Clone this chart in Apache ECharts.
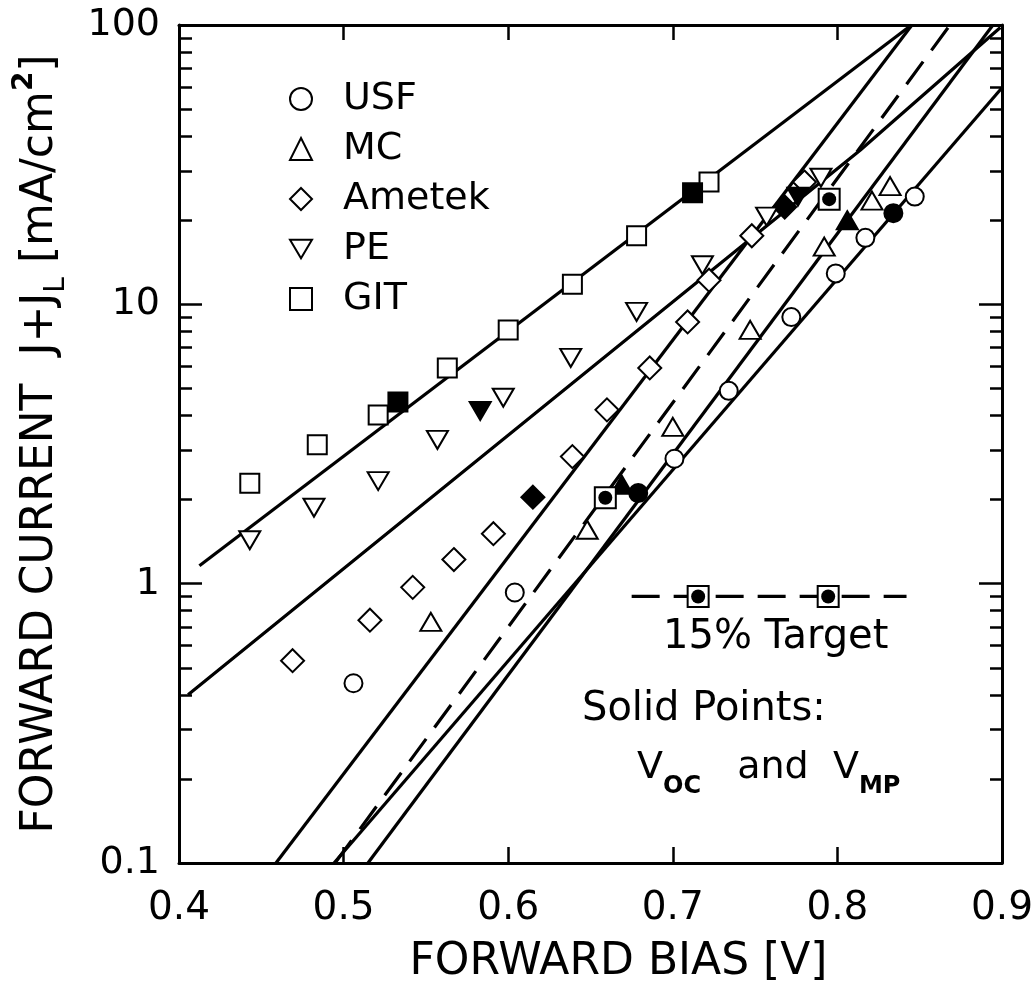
<!DOCTYPE html>
<html>
<head>
<meta charset="utf-8">
<script src="https://cdn.jsdelivr.net/npm/echarts@6/dist/echarts.min.js"></script>
<style>
  html, body { margin: 0; padding: 0; background: #fff; }
  #chart { width: 1036px; height: 991px; }
</style>
</head>
<body>
<div id="chart"></div>
<script>
// Forward J-V characteristics (J + J_L vs. forward bias) for five cell makers,
// with the fitted diode lines and the 15 % efficiency target line.

const xTicks = [0.4, 0.5, 0.6, 0.7, 0.8, 0.9];
const yMajor = [0.1, 1, 10, 100];
const yMinor = [0.2, 0.3, 0.4, 0.5, 0.6, 0.7, 0.8, 0.9,
                2, 3, 4, 5, 6, 7, 8, 9,
                20, 30, 40, 50, 60, 70, 80, 90];
const yTickText = { 0.1: '0.1', 1: '1', 10: '10', 100: '100' };

// measured points [bias V, current mA/cm2]; "solid" = Vmp and Voc
const usfOpen = [[0.506, 0.44], [0.604, 0.93], [0.701, 2.8], [0.734, 4.9], [0.772, 9.0],
                 [0.799, 12.9], [0.817, 17.3], [0.847, 24.3]];
const usfSolid = [[0.679, 2.11], [0.834, 21.2]];
const mcOpen = [[0.553, 0.73], [0.648, 1.56], [0.700, 3.64], [0.747, 8.1], [0.792, 16.1],
                [0.821, 23.5], [0.832, 26.5]];
const mcSolid = [[0.669, 2.26], [0.806, 20.0]];
const ametekOpen = [[0.469, 0.53], [0.516, 0.74], [0.542, 0.97], [0.567, 1.22], [0.591, 1.51],
                    [0.639, 2.85], [0.660, 4.19], [0.686, 5.92], [0.709, 8.65], [0.722, 12.2],
                    [0.748, 17.6], [0.780, 27.4]];
const ametekSolid = [[0.615, 2.04], [0.768, 22.3]];
const peOpen = [[0.443, 1.43], [0.482, 1.87], [0.521, 2.33], [0.557, 3.27], [0.597, 4.63],
                [0.638, 6.43], [0.678, 9.4], [0.718, 13.8], [0.757, 20.6], [0.790, 28.4]];
const peSolid = [[0.583, 4.15], [0.776, 24.3]];
const gitOpen = [[0.443, 2.29], [0.484, 3.14], [0.521, 4.02], [0.563, 5.92], [0.600, 8.09],
                 [0.639, 11.8], [0.678, 17.6], [0.722, 27.4]];
const gitSolid = [[0.533, 4.47], [0.712, 25.1]];
const targetPoints = [[0.659, 2.03], [0.795, 23.8]];

// fitted lines
const gitFit = [[0.4124, 1.16], [0.845, 100]];
const peFit = [[0.4055, 0.40], [0.656, 6.3], [0.814, 35.7], [0.899, 98]];
const ametekFit = [[0.4589, 0.1], [0.8453, 100]];
const mcFit = [[0.5148, 0.1], [0.8945, 100]];
const usfFit = [[0.4942, 0.1], [0.9, 59.6]];
const targetFit = [[0.4948, 0.1], [0.8684, 100]];

// key for the target line
const targetKeyLine = [[0.675, 0.9], [0.842, 0.9]];
const targetKeyPoints = [[0.7154, 0.9], [0.7944, 0.9]];

const FONT = '"DejaVu Sans", sans-serif';
const BLACK = '#000';
const downTri = 'path://M0,0L20,0L10,17Z';

function fit(name, data, dashed) {
  return {
    type: 'line', name: name, data: data, symbol: 'none', showSymbol: false,
    lineStyle: { color: BLACK, width: 3.2, type: dashed ? [28, 14] : 'solid' },
    z: 2, silent: true
  };
}

function marks(name, symbol, size, open, solid) {
  return {
    type: 'scatter', name: name, symbol: symbol, symbolSize: size,
    itemStyle: { color: '#fff', borderColor: BLACK, borderWidth: 2, opacity: 1 },
    data: open.concat(solid.map(p => ({ value: p, itemStyle: { color: BLACK, opacity: 1 } }))),
    z: 4, silent: true
  };
}

function boxedDots(data) {
  return [
    { type: 'scatter', name: 'box', symbol: 'rect', symbolSize: 21, data: data,
      itemStyle: { color: '#fff', borderColor: BLACK, borderWidth: 2, opacity: 1 }, z: 5, silent: true },
    { type: 'scatter', name: 'dot', symbol: 'circle', symbolSize: 14, data: data,
      itemStyle: { color: BLACK, opacity: 1 }, z: 6, silent: true }
  ];
}

const logAxisBase = { type: 'log', logBase: 10, min: 0.1, max: 100, splitLine: { show: false } };
const tickLine = { color: BLACK, width: 2.5 };

const option = {
  animation: false,
  backgroundColor: '#fff',
  grid: { left: 179, right: 34, top: 25, bottom: 128, containLabel: false, outerBoundsMode: 'none' },
  xAxis: [
    {
      type: 'value', position: 'bottom', min: 0.4, max: 0.9, interval: 0.1,
      axisLine: { show: true, onZero: false, lineStyle: { color: BLACK, width: 3 } },
      axisTick: { show: true, inside: true, length: 16, lineStyle: tickLine },
      axisLabel: { margin: 26, fontSize: 39, fontFamily: FONT, color: BLACK,
                   formatter: v => v.toFixed(1) },
      splitLine: { show: false },
      name: 'FORWARD BIAS [V]', nameLocation: 'middle', nameGap: 78,
      nameTextStyle: { fontSize: 44, fontFamily: FONT, color: BLACK, padding: [0, 0, 0, 56] }
    },
    {
      type: 'value', position: 'top', min: 0.4, max: 0.9, interval: 0.1,
      axisLine: { show: true, onZero: false, lineStyle: { color: BLACK, width: 3 } },
      axisTick: { show: true, inside: true, length: 15, lineStyle: tickLine },
      axisLabel: { show: false }, splitLine: { show: false }
    }
  ],
  yAxis: [
    Object.assign({}, logAxisBase, {
      position: 'left',
      axisLine: { show: true, onZero: false, lineStyle: { color: BLACK, width: 3 } },
      axisTick: { show: true, inside: true, length: 23, lineStyle: tickLine, customValues: yMajor },
      axisLabel: { customValues: yMajor, margin: 19, fontSize: 38, fontFamily: FONT, color: BLACK,
                   formatter: v => yTickText[Math.round(v * 10) / 10] || String(v) },
      name: '{a|FORWARD CURRENT  J+J}{b|L}{a| [mA/cm}{c|2}{a|]}',
      nameLocation: 'middle', nameGap: 108, nameRotate: 90,
      nameTextStyle: {
        color: BLACK, fontFamily: FONT,
        rich: {
          a: { fontSize: 44, fontFamily: FONT, color: BLACK, lineHeight: 60 },
          b: { fontSize: 28, fontFamily: FONT, color: BLACK, lineHeight: 60, verticalAlign: 'bottom' },
          c: { fontSize: 28, fontFamily: FONT, color: BLACK, fontWeight: 'bold', lineHeight: 60, verticalAlign: 'top' }
        }
      }
    }),
    Object.assign({}, logAxisBase, {
      position: 'left',
      axisLine: { show: false },
      axisTick: { show: true, inside: true, length: 13, lineStyle: tickLine, customValues: yMinor },
      axisLabel: { show: false }
    }),
    Object.assign({}, logAxisBase, {
      position: 'right',
      axisLine: { show: true, onZero: false, lineStyle: { color: BLACK, width: 3 } },
      axisTick: { show: true, inside: true, length: 23, lineStyle: tickLine, customValues: yMajor },
      axisLabel: { show: false }
    }),
    Object.assign({}, logAxisBase, {
      position: 'right',
      axisLine: { show: false },
      axisTick: { show: true, inside: true, length: 12, lineStyle: tickLine, customValues: yMinor },
      axisLabel: { show: false }
    })
  ],
  legend: {
    orient: 'vertical', left: 284, top: 73,
    itemWidth: 22, itemHeight: 22, itemGap: 8, selectedMode: false,
    textStyle: { fontSize: 38, fontFamily: FONT, color: BLACK, lineHeight: 42, padding: [0, 0, 0, 26] },
    data: ['USF', 'MC', 'Ametek', 'PE', 'GIT'].map(n => ({
      name: n, itemStyle: { color: '#fff', borderColor: BLACK, borderWidth: 2, opacity: 1 }
    }))
  },
  graphic: [
    { type: 'text', x: 663, y: 638, silent: true,
      style: { text: '15% Target', fontSize: 40, fontFamily: FONT, fill: BLACK, align: 'left', verticalAlign: 'middle' } },
    { type: 'text', x: 582, y: 710, silent: true,
      style: { text: 'Solid Points:', fontSize: 40, fontFamily: FONT, fill: BLACK, align: 'left', verticalAlign: 'middle' } },
    { type: 'text', x: 637, y: 768, silent: true,
      style: {
        text: '{v|V}{s|OC}{v|   and  }{v|V}{s|MP}',
        align: 'left', verticalAlign: 'middle',
        rich: {
          v: { fontSize: 38, fontFamily: FONT, fill: BLACK, lineHeight: 62 },
          s: { fontSize: 24, fontFamily: FONT, fill: BLACK, fontWeight: 'bold', lineHeight: 62, verticalAlign: 'bottom' }
        }
      } }
  ],
  series: [
    fit('GIT fit', gitFit),
    fit('PE fit', peFit),
    fit('Ametek fit', ametekFit),
    fit('MC fit', mcFit),
    fit('USF fit', usfFit),
    fit('15% Target', targetFit, true),
    fit('15% Target key', targetKeyLine, true),
    marks('USF', 'circle', 18, usfOpen, usfSolid),
    marks('MC', 'triangle', [21, 18], mcOpen, mcSolid),
    marks('Ametek', 'diamond', [23, 23], ametekOpen, ametekSolid),
    marks('PE', downTri, [21, 18], peOpen, peSolid),
    marks('GIT', 'rect', 19, gitOpen, gitSolid)
  ].concat(boxedDots(targetPoints), boxedDots(targetKeyPoints))
};

const chart = echarts.init(document.getElementById('chart'), null, { renderer: 'canvas' });
chart.setOption(option);
</script>
</body>
</html>
